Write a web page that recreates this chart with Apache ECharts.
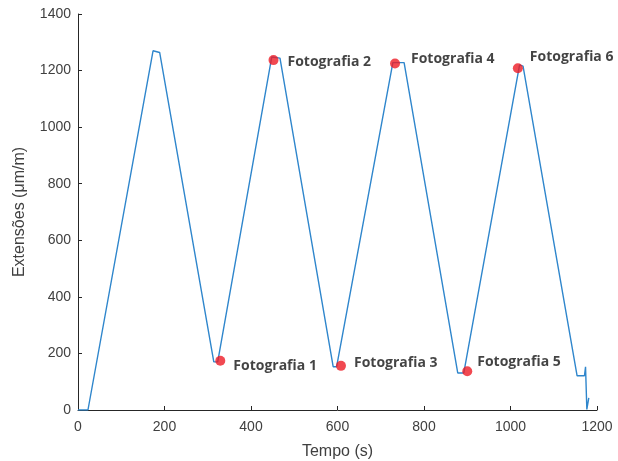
<!DOCTYPE html>
<html>
<head>
<meta charset="utf-8">
<script src="https://cdn.jsdelivr.net/npm/echarts@6/dist/echarts.min.js"></script>
<style>html,body{margin:0;padding:0;background:#fff}#c{width:618px;height:461px}</style>
</head>
<body>
<div id="c"></div>
<script>
// Data
const timeValues   = [0, 23, 173.5, 188.8, 314, 323, 448, 467, 590, 598, 728, 754, 878, 892, 1021, 1029, 1154, 1171, 1173.5, 1176.5, 1181];
const strainValues = [0, 0, 1270, 1264, 170, 170, 1248, 1244, 153, 153, 1228, 1228, 131, 131, 1220, 1216, 121, 121, 153, 2, 43];
const photoTimes   = [329, 452, 608, 733, 900, 1017];
const photoStrains = [174, 1237, 156, 1225, 137, 1208];
const photoLabels  = ['Fotografia 1', 'Fotografia 2', 'Fotografia 3', 'Fotografia 4', 'Fotografia 5', 'Fotografia 6'];
const xTicks = [0, 200, 400, 600, 800, 1000, 1200];
const yTicks = [0, 200, 400, 600, 800, 1000, 1200, 1400];
// label placement (layout only)
const labelOffsets = [[8, 5], [9, 2], [8, -3], [11, -4], [5, -9], [7, -11]];

const chart = echarts.init(document.getElementById('c'), null, {renderer: 'canvas'});
const axisColor = '#262626';
const labelColor = '#404040';
chart.setOption({
  animation: false,
  grid: {left: 78, right: 21, top: 14, bottom: 51, containLabel: false, outerBoundsMode: 'none'},
  xAxis: {
    type: 'value', min: xTicks[0], max: xTicks[xTicks.length - 1], interval: 200,
    name: 'Tempo (s)', nameLocation: 'middle', nameGap: 34,
    nameTextStyle: {color: labelColor, fontSize: 16, fontFamily: 'Liberation Sans'},
    axisLine: {show: true, lineStyle: {color: axisColor, width: 1}},
    axisTick: {show: true, inside: true, length: 4, lineStyle: {color: axisColor}},
    axisLabel: {color: labelColor, fontSize: 14, fontFamily: 'Liberation Sans', margin: 10, formatter: v => String(v)},
    splitLine: {show: false}
  },
  yAxis: {
    type: 'value', min: yTicks[0], max: yTicks[yTicks.length - 1], interval: 200,
    name: 'Extensões (\u03bcm/m)', nameLocation: 'middle', nameGap: 50, nameRotate: 90,
    nameTextStyle: {color: labelColor, fontSize: 16, fontFamily: 'Liberation Sans'},
    axisLine: {show: true, lineStyle: {color: axisColor, width: 1}},
    axisTick: {show: true, inside: true, length: 4, lineStyle: {color: axisColor}},
    axisLabel: {color: labelColor, fontSize: 14, fontFamily: 'Liberation Sans', margin: 7, formatter: v => String(v)},
    splitLine: {show: false}
  },
  series: [
    {
      type: 'line',
      data: timeValues.map((t, i) => [t, strainValues[i]]),
      showSymbol: false,
      lineStyle: {color: '#2f86cc', width: 1.4},
      itemStyle: {color: '#2f86cc'},
      z: 2
    },
    {
      type: 'scatter',
      data: photoTimes.map((t, i) => ({
        value: [t, photoStrains[i]],
        label: {offset: labelOffsets[i]}
      })),
      symbol: 'circle',
      symbolSize: 10,
      itemStyle: {color: '#ee1c25'},
      label: {
        show: true, position: 'right', distance: 0,
        formatter: p => photoLabels[p.dataIndex],
        color: '#141414', fontWeight: 'bold', fontSize: 14, fontFamily: 'Open Sans'
      },
      z: 3
    }
  ]
});
</script>
</body>
</html>
